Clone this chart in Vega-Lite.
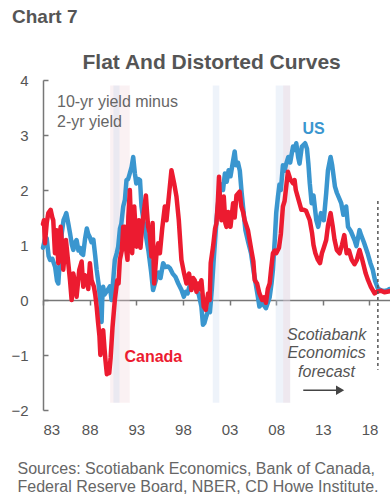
{
  "$schema": "https://vega.github.io/schema/vega-lite/v6.json",
  "width": 347,
  "height": 330,
  "autosize": {"type": "none"},
  "padding": {"left": 43, "top": 80, "right": 0, "bottom": 86},
  "background": "white",
  "config": {"view": {"stroke": null}, "font": "Liberation Sans"},
  "title": {"text": "Chart 7", "font": "Liberation Sans", "fontSize": 19, "fontWeight": "bold", "color": "#555555", "anchor": "start", "frame": "group", "dx": -31, "offset": 24},
  "datasets": {
    "us": [
      {"t":1983.0,"v":0.95},{"t":1983.2,"v":1.1},{"t":1983.4,"v":1.12},{"t":1983.6,"v":0.8},{"t":1983.75,"v":0.73},{"t":1984.0,"v":0.75},{"t":1984.3,"v":0.6},{"t":1984.5,"v":0.35},{"t":1984.64,"v":0.3},{"t":1984.8,"v":0.7},{"t":1985.0,"v":1.2},{"t":1985.2,"v":1.45},{"t":1985.35,"v":1.51},{"t":1985.5,"v":1.58},{"t":1985.7,"v":1.4},{"t":1985.9,"v":1.21},{"t":1986.1,"v":1.0},{"t":1986.25,"v":0.91},{"t":1986.45,"v":1.05},{"t":1986.6,"v":1.09},{"t":1986.8,"v":0.9},{"t":1986.96,"v":0.95},{"t":1987.1,"v":0.85},{"t":1987.3,"v":0.82},{"t":1987.5,"v":1.1},{"t":1987.7,"v":1.3},{"t":1987.85,"v":1.2},{"t":1988.0,"v":1.15},{"t":1988.2,"v":1.05},{"t":1988.4,"v":1.1},{"t":1988.6,"v":0.8},{"t":1988.75,"v":0.55},{"t":1988.95,"v":0.3},{"t":1989.1,"v":0.06},{"t":1989.2,"v":-0.1},{"t":1989.28,"v":-0.4},{"t":1989.35,"v":0.0},{"t":1989.45,"v":0.24},{"t":1989.6,"v":0.1},{"t":1989.8,"v":0.15},{"t":1990.0,"v":0.2},{"t":1990.17,"v":0.25},{"t":1990.35,"v":0.0},{"t":1990.5,"v":0.3},{"t":1990.7,"v":0.73},{"t":1990.9,"v":0.85},{"t":1991.06,"v":0.97},{"t":1991.25,"v":1.3},{"t":1991.4,"v":1.39},{"t":1991.6,"v":1.7},{"t":1991.78,"v":1.82},{"t":1991.95,"v":2.18},{"t":1992.13,"v":2.2},{"t":1992.3,"v":2.3},{"t":1992.5,"v":2.42},{"t":1992.67,"v":2.6},{"t":1992.85,"v":2.3},{"t":1993.0,"v":2.12},{"t":1993.2,"v":2.2},{"t":1993.4,"v":2.18},{"t":1993.56,"v":1.7},{"t":1993.8,"v":1.4},{"t":1994.1,"v":1.1},{"t":1994.3,"v":0.9},{"t":1994.6,"v":0.5},{"t":1994.8,"v":0.18},{"t":1995.0,"v":0.3},{"t":1995.2,"v":0.42},{"t":1995.4,"v":0.5},{"t":1995.6,"v":0.4},{"t":1995.88,"v":0.67},{"t":1996.1,"v":0.6},{"t":1996.4,"v":0.61},{"t":1996.6,"v":0.58},{"t":1996.9,"v":0.48},{"t":1997.2,"v":0.42},{"t":1997.5,"v":0.3},{"t":1997.85,"v":0.18},{"t":1998.1,"v":0.06},{"t":1998.3,"v":0.15},{"t":1998.5,"v":0.12},{"t":1998.7,"v":0.25},{"t":1998.9,"v":0.2},{"t":1999.1,"v":0.3},{"t":1999.4,"v":0.2},{"t":1999.7,"v":0.1},{"t":1999.98,"v":-0.12},{"t":2000.15,"v":-0.45},{"t":2000.3,"v":-0.42},{"t":2000.5,"v":-0.3},{"t":2000.7,"v":-0.2},{"t":2000.9,"v":-0.22},{"t":2001.1,"v":0.2},{"t":2001.3,"v":0.73},{"t":2001.45,"v":1.09},{"t":2001.6,"v":1.45},{"t":2001.8,"v":1.8},{"t":2001.94,"v":1.95},{"t":2002.1,"v":2.1},{"t":2002.3,"v":2.0},{"t":2002.5,"v":2.3},{"t":2002.7,"v":2.15},{"t":2002.9,"v":2.36},{"t":2003.1,"v":2.25},{"t":2003.3,"v":2.45},{"t":2003.55,"v":2.7},{"t":2003.7,"v":2.45},{"t":2003.9,"v":2.5},{"t":2004.1,"v":2.35},{"t":2004.3,"v":1.94},{"t":2004.5,"v":1.6},{"t":2004.7,"v":1.27},{"t":2005.0,"v":1.05},{"t":2005.3,"v":0.85},{"t":2005.6,"v":0.5},{"t":2005.8,"v":0.3},{"t":2006.0,"v":0.1},{"t":2006.2,"v":-0.12},{"t":2006.5,"v":-0.05},{"t":2006.7,"v":-0.1},{"t":2006.9,"v":-0.15},{"t":2007.1,"v":-0.05},{"t":2007.3,"v":0.05},{"t":2007.5,"v":0.3},{"t":2007.65,"v":0.55},{"t":2007.85,"v":1.1},{"t":2008.0,"v":1.58},{"t":2008.19,"v":1.88},{"t":2008.35,"v":2.1},{"t":2008.5,"v":2.0},{"t":2008.72,"v":2.45},{"t":2008.9,"v":2.35},{"t":2009.08,"v":2.48},{"t":2009.3,"v":2.6},{"t":2009.5,"v":2.5},{"t":2009.8,"v":2.79},{"t":2009.97,"v":2.73},{"t":2010.15,"v":2.85},{"t":2010.35,"v":2.6},{"t":2010.5,"v":2.48},{"t":2010.75,"v":2.79},{"t":2011.1,"v":2.85},{"t":2011.3,"v":2.75},{"t":2011.45,"v":2.48},{"t":2011.6,"v":2.12},{"t":2011.8,"v":1.76},{"t":2012.0,"v":1.9},{"t":2012.3,"v":1.45},{"t":2012.5,"v":1.33},{"t":2012.8,"v":1.58},{"t":2013.1,"v":1.45},{"t":2013.36,"v":1.94},{"t":2013.55,"v":2.36},{"t":2013.83,"v":2.6},{"t":2014.0,"v":2.45},{"t":2014.3,"v":2.06},{"t":2014.5,"v":1.95},{"t":2014.97,"v":1.76},{"t":2015.2,"v":1.55},{"t":2015.5,"v":1.7},{"t":2015.7,"v":1.33},{"t":2016.0,"v":1.25},{"t":2016.4,"v":1.09},{"t":2016.6,"v":0.98},{"t":2016.93,"v":1.27},{"t":2017.1,"v":1.18},{"t":2017.4,"v":1.05},{"t":2017.8,"v":0.85},{"t":2018.1,"v":0.67},{"t":2018.35,"v":0.55},{"t":2018.6,"v":0.35},{"t":2018.9,"v":0.21},{"t":2019.2,"v":0.18},{"t":2019.5,"v":0.16},{"t":2019.96,"v":0.18},{"t":2020.15,"v":0.2}
    ],
    "canada": [
      {"t":1983.0,"v":1.38},{"t":1983.1,"v":1.45},{"t":1983.21,"v":1.03},{"t":1983.4,"v":1.4},{"t":1983.57,"v":1.58},{"t":1983.82,"v":1.64},{"t":1984.0,"v":1.5},{"t":1984.1,"v":1.45},{"t":1984.28,"v":0.85},{"t":1984.46,"v":1.27},{"t":1984.64,"v":0.67},{"t":1984.89,"v":1.33},{"t":1985.05,"v":1.0},{"t":1985.17,"v":0.55},{"t":1985.46,"v":1.09},{"t":1985.71,"v":0.67},{"t":1985.9,"v":0.35},{"t":1986.07,"v":0.0},{"t":1986.25,"v":0.48},{"t":1986.45,"v":0.3},{"t":1986.6,"v":0.06},{"t":1986.89,"v":0.55},{"t":1987.14,"v":0.7},{"t":1987.32,"v":0.24},{"t":1987.5,"v":0.45},{"t":1987.68,"v":0.42},{"t":1987.85,"v":0.2},{"t":1988.03,"v":0.67},{"t":1988.21,"v":0.36},{"t":1988.46,"v":0.24},{"t":1988.6,"v":0.1},{"t":1988.75,"v":-0.12},{"t":1988.9,"v":-0.4},{"t":1989.05,"v":-0.65},{"t":1989.15,"v":-1.0},{"t":1989.3,"v":-0.7},{"t":1989.45,"v":-0.55},{"t":1989.6,"v":-0.9},{"t":1989.7,"v":-1.1},{"t":1989.85,"v":-1.35},{"t":1990.0,"v":-1.3},{"t":1990.1,"v":-1.33},{"t":1990.25,"v":-1.05},{"t":1990.45,"v":-0.5},{"t":1990.6,"v":-0.2},{"t":1990.7,"v":0.0},{"t":1990.96,"v":0.36},{"t":1991.1,"v":0.3},{"t":1991.24,"v":0.73},{"t":1991.45,"v":0.9},{"t":1991.6,"v":1.33},{"t":1991.78,"v":1.33},{"t":1991.88,"v":0.97},{"t":1992.06,"v":0.73},{"t":1992.15,"v":1.51},{"t":1992.31,"v":2.0},{"t":1992.45,"v":1.3},{"t":1992.56,"v":0.85},{"t":1992.78,"v":1.7},{"t":1993.03,"v":0.97},{"t":1993.28,"v":1.45},{"t":1993.45,"v":0.95},{"t":1993.56,"v":1.2},{"t":1993.8,"v":1.6},{"t":1994.03,"v":1.9},{"t":1994.15,"v":1.6},{"t":1994.27,"v":1.33},{"t":1994.45,"v":1.2},{"t":1994.63,"v":0.79},{"t":1994.75,"v":1.4},{"t":1994.92,"v":0.3},{"t":1995.17,"v":0.85},{"t":1995.35,"v":1.03},{"t":1995.53,"v":0.85},{"t":1995.78,"v":1.3},{"t":1996.06,"v":1.7},{"t":1996.24,"v":1.45},{"t":1996.49,"v":1.88},{"t":1996.77,"v":2.36},{"t":1997.06,"v":2.12},{"t":1997.31,"v":1.88},{"t":1997.56,"v":1.45},{"t":1997.84,"v":0.73},{"t":1998.13,"v":0.48},{"t":1998.38,"v":0.3},{"t":1998.66,"v":0.48},{"t":1998.91,"v":0.18},{"t":1999.1,"v":0.4},{"t":1999.27,"v":0.36},{"t":1999.45,"v":0.15},{"t":1999.63,"v":0.3},{"t":1999.8,"v":0.2},{"t":1999.98,"v":0.36},{"t":2000.23,"v":-0.12},{"t":2000.45,"v":-0.18},{"t":2000.7,"v":0.12},{"t":2000.87,"v":0.0},{"t":2000.98,"v":0.67},{"t":2001.23,"v":0.97},{"t":2001.45,"v":1.3},{"t":2001.59,"v":1.39},{"t":2001.75,"v":1.8},{"t":2001.87,"v":2.24},{"t":2002.0,"v":1.7},{"t":2002.13,"v":1.45},{"t":2002.38,"v":1.88},{"t":2002.55,"v":1.4},{"t":2002.67,"v":1.33},{"t":2002.85,"v":1.6},{"t":2003.1,"v":1.33},{"t":2003.38,"v":1.76},{"t":2003.55,"v":1.5},{"t":2003.74,"v":1.9},{"t":2004.08,"v":1.97},{"t":2004.26,"v":1.7},{"t":2004.45,"v":1.6},{"t":2004.62,"v":1.45},{"t":2004.97,"v":1.27},{"t":2005.33,"v":0.91},{"t":2005.55,"v":0.7},{"t":2005.7,"v":0.36},{"t":2005.95,"v":0.3},{"t":2006.2,"v":0.12},{"t":2006.5,"v":0.0},{"t":2006.7,"v":0.05},{"t":2006.9,"v":-0.05},{"t":2007.1,"v":0.2},{"t":2007.3,"v":0.3},{"t":2007.45,"v":0.55},{"t":2007.65,"v":0.85},{"t":2007.85,"v":0.9},{"t":2008.0,"v":0.85},{"t":2008.3,"v":0.95},{"t":2008.5,"v":1.2},{"t":2008.72,"v":1.7},{"t":2008.9,"v":1.8},{"t":2009.1,"v":2.1},{"t":2009.26,"v":2.33},{"t":2009.5,"v":2.2},{"t":2009.8,"v":2.12},{"t":2009.97,"v":2.18},{"t":2010.1,"v":2.0},{"t":2010.3,"v":1.88},{"t":2010.7,"v":1.64},{"t":2010.95,"v":1.64},{"t":2011.2,"v":1.62},{"t":2011.6,"v":1.45},{"t":2011.85,"v":1.21},{"t":2012.0,"v":1.0},{"t":2012.2,"v":0.85},{"t":2012.47,"v":0.73},{"t":2012.7,"v":0.67},{"t":2012.9,"v":0.85},{"t":2013.1,"v":0.95},{"t":2013.36,"v":1.09},{"t":2013.55,"v":1.35},{"t":2013.83,"v":1.58},{"t":2014.05,"v":1.35},{"t":2014.25,"v":1.1},{"t":2014.5,"v":0.91},{"t":2014.8,"v":0.85},{"t":2015.05,"v":1.0},{"t":2015.3,"v":1.18},{"t":2015.55,"v":0.85},{"t":2015.8,"v":0.9},{"t":2016.1,"v":0.73},{"t":2016.4,"v":0.65},{"t":2016.65,"v":0.73},{"t":2016.93,"v":0.91},{"t":2017.2,"v":0.75},{"t":2017.6,"v":0.48},{"t":2017.85,"v":0.36},{"t":2018.15,"v":0.24},{"t":2018.55,"v":0.12},{"t":2018.8,"v":0.15},{"t":2019.2,"v":0.17},{"t":2019.6,"v":0.14},{"t":2020.15,"v":0.16}
    ],
    "bands": [
      {"t":1990.2,"t2":1992.3,"v":3.9,"v2":-1.87,"kind":"Canada"},
      {"t":1990.55,"t2":1991.2,"v":3.9,"v2":-1.87,"kind":"US"},
      {"t":2001.2,"t2":2001.9,"v":3.9,"v2":-1.87,"kind":"US"},
      {"t":2007.95,"t2":2009.5,"v":3.9,"v2":-1.87,"kind":"US"},
      {"t":2008.75,"t2":2009.5,"v":3.9,"v2":-1.87,"kind":"Canada"}
    ]
  },
  "layer": [
    {
      "data": {"name": "bands"},
      "mark": {"type": "rect", "opacity": 0.3},
      "encoding": {
        "x": {"field": "t", "type": "quantitative", "scale": {"domain": [1983, 2020.2], "nice": false, "zero": false},
          "axis": {"values": [1983, 1988, 1993, 1998, 2003, 2008, 2013, 2018], "labelExpr": "substring(format(datum.value, 'd'), 2)", "offset": -110, "labelPadding": 117, "tickSize": 5, "tickColor": "#777777", "domainColor": "#777777", "domainWidth": 1.5, "tickWidth": 1.5, "labelFontSize": 15, "labelColor": "#555555", "grid": false,
            "title": ["Sources: Scotiabank Economics, Bank of Canada,", "Federal Reserve Board, NBER, CD Howe Institute."], "titleFontSize": 16, "titleFontWeight": "normal", "titleColor": "#666666", "titleAlign": "left", "titleBaseline": "alphabetic", "titleX": -26, "titleY": 173, "titleLineHeight": 18}},
        "x2": {"field": "t2"},
        "y": {"field": "v", "type": "quantitative", "scale": {"domain": [-2, 4], "nice": false},
          "axis": {"values": [-2, -1, 0, 1, 2, 3, 4], "format": "d", "tickSize": -5, "labelPadding": 20, "tickColor": "#777777", "domainColor": "#777777", "domainWidth": 1.5, "tickWidth": 1.5, "labelFontSize": 15, "labelColor": "#555555", "grid": false,
            "title": "Flat And Distorted Curves", "titleAngle": 0, "titleFontSize": 21, "titleFontWeight": "bold", "titleColor": "#555555", "titleAlign": "left", "titleBaseline": "alphabetic", "titleX": 39, "titleY": -12}},
        "y2": {"field": "v2"},
        "color": {"field": "kind", "type": "nominal", "scale": {"domain": ["US", "Canada"], "range": ["#c6d8ef", "#efcfd7"]}, "legend": null}
      }
    },
    {
      "data": {"name": "us"},
      "mark": {"type": "line", "color": "#3a96cf", "strokeWidth": 4.5, "strokeJoin": "round", "strokeCap": "round"},
      "encoding": {
        "x": {"field": "t", "type": "quantitative"},
        "y": {"field": "v", "type": "quantitative"}
      }
    },
    {
      "data": {"name": "canada"},
      "mark": {"type": "line", "color": "#ec1b30", "strokeWidth": 4.5, "strokeJoin": "round", "strokeCap": "round"},
      "encoding": {
        "x": {"field": "t", "type": "quantitative"},
        "y": {"field": "v", "type": "quantitative"}
      }
    },
    {
      "data": {"values": [{"t": 2018.9, "v": 1.8, "v2": -1.27}]},
      "mark": {"type": "rule", "color": "#555555", "strokeWidth": 1.5, "strokeDash": [3, 3]},
      "encoding": {
        "x": {"field": "t", "type": "quantitative"},
        "y": {"field": "v", "type": "quantitative"},
        "y2": {"field": "v2"}
      }
    },
    {
      "data": {"values": [{"t": 2010.9, "t2": 2014.7, "v": -1.64}]},
      "mark": {"type": "rule", "color": "#444444", "strokeWidth": 1.5},
      "encoding": {
        "x": {"field": "t", "type": "quantitative"},
        "x2": {"field": "t2"},
        "y": {"field": "v", "type": "quantitative"}
      }
    },
    {
      "data": {"values": [{"t": 2014.85, "v": -1.64}]},
      "mark": {"type": "point", "shape": "triangle-right", "filled": true, "color": "#444444", "size": 90, "opacity": 1},
      "encoding": {
        "x": {"field": "t", "type": "quantitative"},
        "y": {"field": "v", "type": "quantitative"}
      }
    },
    {
      "data": {"values": [
        {"t": 1984.5, "v": 3.6, "label": "10-yr yield minus\n2-yr yield"}
      ]},
      "mark": {"type": "text", "align": "left", "baseline": "middle", "fontSize": 16, "color": "#666666", "lineBreak": "\n", "lineHeight": 20},
      "encoding": {
        "x": {"field": "t", "type": "quantitative"},
        "y": {"field": "v", "type": "quantitative"},
        "text": {"field": "label"}
      }
    },
    {
      "data": {"values": [{"t": 2012.0, "v": 3.11, "label": "US"}]},
      "mark": {"type": "text", "align": "center", "baseline": "middle", "fontSize": 16, "fontWeight": "bold", "color": "#3a96cf"},
      "encoding": {
        "x": {"field": "t", "type": "quantitative"},
        "y": {"field": "v", "type": "quantitative"},
        "text": {"field": "label"}
      }
    },
    {
      "data": {"values": [{"t": 1994.83, "v": -1.03, "label": "Canada"}]},
      "mark": {"type": "text", "align": "center", "baseline": "middle", "fontSize": 16, "fontWeight": "bold", "color": "#ec1b30"},
      "encoding": {
        "x": {"field": "t", "type": "quantitative"},
        "y": {"field": "v", "type": "quantitative"},
        "text": {"field": "label"}
      }
    },
    {
      "data": {"values": [{"t": 2013.4, "v": -0.636, "label": "Scotiabank\nEconomics\nforecast"}]},
      "mark": {"type": "text", "align": "center", "baseline": "middle", "fontSize": 16, "fontStyle": "italic", "color": "#555555", "lineBreak": "\n", "lineHeight": 18.5},
      "encoding": {
        "x": {"field": "t", "type": "quantitative"},
        "y": {"field": "v", "type": "quantitative"},
        "text": {"field": "label"}
      }
    }
  ]
}
